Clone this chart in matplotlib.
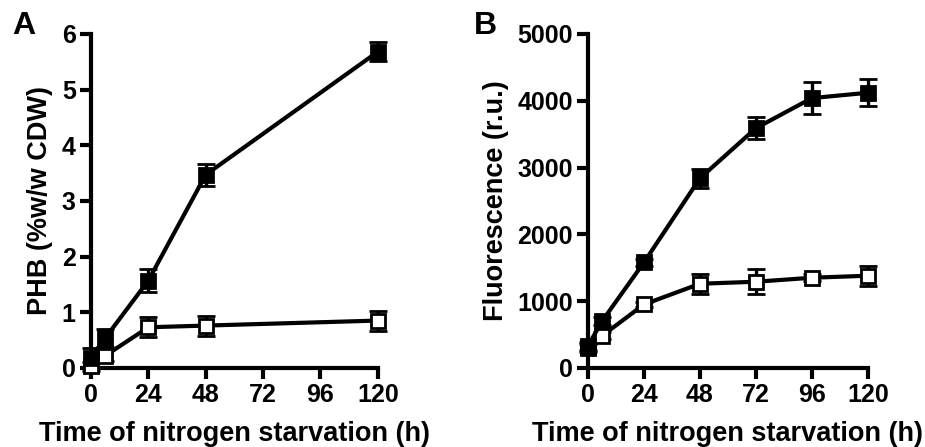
import matplotlib
matplotlib.use('Agg')
from matplotlib import pyplot as plt

plt.rcParams['font.family'] = ['Liberation Sans', 'DejaVu Sans']
plt.rcParams['font.weight'] = 'bold'

# Panel A - PHB
time_a = [0, 6, 24, 48, 120]
phb_filled = [0.18, 0.54, 1.57, 3.47, 5.68]
phb_filled_err = [0.18, 0.16, 0.2, 0.2, 0.17]
phb_open = [0.03, 0.22, 0.73, 0.76, 0.85]
phb_open_err = [0.08, 0.1, 0.18, 0.18, 0.18]

# Panel B - fluorescence
time_b = [0, 6, 24, 48, 72, 96, 120]
fluo_filled = [330, 700, 1580, 2840, 3590, 4040, 4120]
fluo_filled_err = [60, 60, 50, 140, 170, 240, 200]
fluo_open = [300, 480, 950, 1260, 1290, 1350, 1380]
fluo_open_err = [60, 50, 40, 150, 190, 50, 150]

xticks = [0, 24, 48, 72, 96, 120]


def style_axis(ax):
    for side in ['top', 'right']:
        ax.spines[side].set_visible(False)
    for side in ['left', 'bottom']:
        ax.spines[side].set_linewidth(3)
    ax.tick_params(width=3, length=8, labelsize=18, pad=3)
    for lab in ax.get_xticklabels() + ax.get_yticklabels():
        lab.set_fontweight('bold')


def draw_series(ax, x, y, err, face):
    ax.errorbar(x, y, yerr=err, color='black', lw=3, elinewidth=2.4,
                capsize=6.5, capthick=2.4, marker='s', markersize=10.5,
                markerfacecolor=face, markeredgecolor='black',
                markeredgewidth=2, clip_on=False, zorder=3)


fig = plt.figure(figsize=(9.25, 4.47), dpi=100)

ax1 = fig.add_axes([0.0984, 0.177, 0.31, 0.747])
draw_series(ax1, time_a, phb_open, phb_open_err, 'white')
draw_series(ax1, time_a, phb_filled, phb_filled_err, 'black')
ax1.set_xlim(0, 120)
ax1.set_ylim(0, 6)
ax1.set_xticks(xticks)
ax1.set_yticks(range(0, 7))
style_axis(ax1)
ax1.set_xlabel('Time of nitrogen starvation (h)', fontsize=19.5, fontweight='bold', labelpad=10)
ax1.set_ylabel('PHB (%w/w CDW)', fontsize=19.5, fontweight='bold', labelpad=6)
fig.text(0.013, 0.925, 'A', fontsize=23, fontweight='bold')

ax2 = fig.add_axes([0.6357, 0.177, 0.3026, 0.747])
draw_series(ax2, time_b, fluo_open, fluo_open_err, 'white')
draw_series(ax2, time_b, fluo_filled, fluo_filled_err, 'black')
ax2.set_xlim(0, 120)
ax2.set_ylim(0, 5000)
ax2.set_xticks(xticks)
ax2.set_yticks(range(0, 5001, 1000))
style_axis(ax2)
ax2.set_xlabel('Time of nitrogen starvation (h)', fontsize=19.5, fontweight='bold', labelpad=10)
ax2.set_ylabel('Fluorescence (r.u.)', fontsize=19.5, fontweight='bold', labelpad=6)
fig.text(0.512, 0.925, 'B', fontsize=23, fontweight='bold')

fig.savefig('out.png', dpi=100)
